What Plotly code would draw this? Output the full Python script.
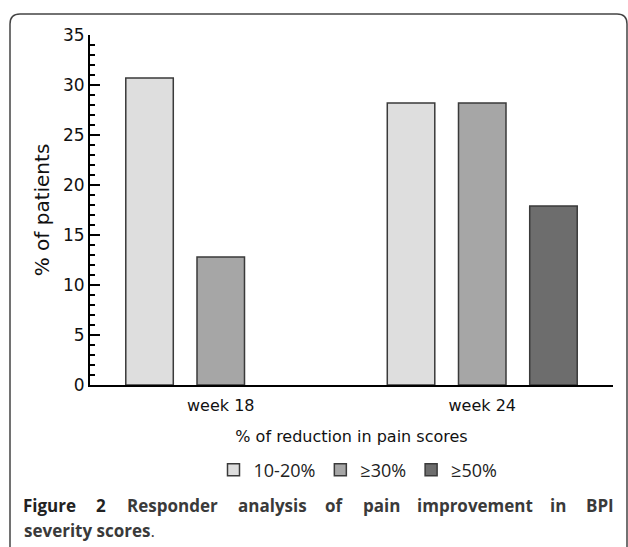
import plotly.graph_objects as go

# ---- data ----
weeks = ["week 18", "week 24"]
series_names = ["10-20%", "\u226530%", "\u226550%"]
val_10_20 = [30.7, 28.2]
val_30 = [12.8, 28.2]
val_50 = [None, 17.9]
colors = ["#dedede", "#a6a6a6", "#6d6d6d"]

W, H = 628, 547
L, R, T, B = 90, 15, 35, 162
PW, PH = W - L - R, H - T - B


def px(x):
    return (x - L) / PW


def py(y):
    return (H - B - y) / PH


fig = go.Figure()
for name, vals, c in zip(series_names, [val_10_20, val_30, val_50], colors):
    fig.add_trace(go.Bar(
        x=weeks, y=vals, name=name,
        marker=dict(color=c, line=dict(color="#3a3a3a", width=1.5)),
    ))

axis_font = "DejaVu Sans"

fig.update_layout(
    width=W, height=H,
    margin=dict(l=L, r=R, t=T, b=B, autoexpand=False),
    paper_bgcolor="white", plot_bgcolor="white",
    barmode="group", bargap=0.183, bargroupgap=0.333,
    showlegend=True,
    legend=dict(orientation="h", x=px(358), xanchor="center", y=py(470), yanchor="middle",
                font=dict(family="Open Sans", size=18, color="#222"),
                itemwidth=30, tracegroupgap=0, bgcolor="rgba(0,0,0,0)"),
    font=dict(family=axis_font, color="#111"),
)

fig.update_xaxes(
    range=[-0.5, 1.5], showline=True, linecolor="#000", linewidth=2,
    ticks="", showgrid=False, zeroline=False, ticklabelstandoff=5,
    tickfont=dict(family=axis_font, size=16, color="#111"),
    title=dict(text="% of reduction in pain scores", standoff=17,
               font=dict(family=axis_font, size=16, color="#111")),
)
fig.update_yaxes(
    range=[0, 35], dtick=5, showline=True, linecolor="#000", linewidth=2,
    ticks="inside", ticklen=10, tickwidth=2, tickcolor="#000",
    minor=dict(dtick=1, ticks="inside", ticklen=5, tickwidth=2, tickcolor="#000", showgrid=False),
    showgrid=False, zeroline=False,
    tickfont=dict(family=axis_font, size=17, color="#111"),
    title=dict(text="% of patients", standoff=8,
               font=dict(family=axis_font, size=20, color="#111")),
)

# outer frame (rounded top corners)
lx, rx_, ty, by = px(10), px(627), py(14), py(560)
cx, cy = 10 / PW, 10 / PH
path = (f"M {lx},{by} L {lx},{ty - cy} Q {lx},{ty} {lx + cx},{ty} "
        f"L {rx_ - cx},{ty} Q {rx_},{ty} {rx_},{ty - cy} L {rx_},{by}")
fig.add_shape(type="path", xref="paper", yref="paper", path=path,
              line=dict(color="#444", width=1.5), layer="below")

# caption: first line justified word by word, second line left aligned
cap1 = [("<b>Figure</b>", 49.5, "#222"), ("<b>2</b>", 101.4, "#222"), ("<b>Responder</b>", 172.3, "#3a3a3a"),
        ("<b>analysis</b>", 272.2, "#3a3a3a"), ("<b>of</b>", 334.6, "#3a3a3a"), ("<b>pain</b>", 381, "#3a3a3a"),
        ("<b>improvement</b>", 475, "#3a3a3a"), ("<b>in</b>", 558.3, "#3a3a3a"), ("<b>BPI</b>", 599.7, "#3a3a3a")]
for txt, xc, col in cap1:
    fig.add_annotation(text=txt, x=px(xc), y=py(505), xref="paper", yref="paper",
                       xanchor="center", yanchor="middle", showarrow=False,
                       font=dict(family="Open Sans", size=17, color=col))
fig.add_annotation(text="<b>severity scores</b>.", x=px(22), y=py(530), xref="paper", yref="paper",
                   xanchor="left", yanchor="middle", showarrow=False,
                   font=dict(family="Open Sans", size=17, color="#3a3a3a"))

fig.write_html("out.html", config={"displayModeBar": False},
               post_script="document.body.style.margin='0';")
